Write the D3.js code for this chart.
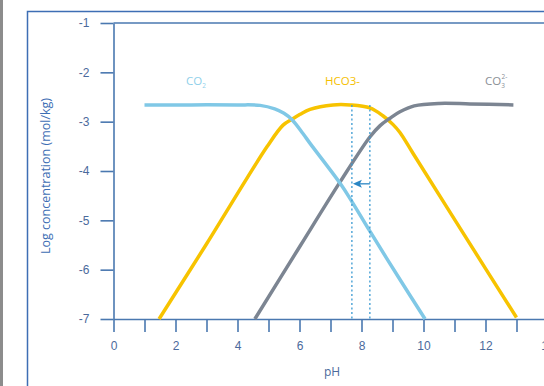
<!DOCTYPE html>
<html>
<head>
<meta charset="utf-8">
<script src="https://cdn.jsdelivr.net/npm/d3@7"></script>
<style>
  body { margin: 0; background: #fff; }
  svg { display: block; font-family: "Open Sans", sans-serif; }
  .axis text { fill: #4b6a9c; font-size: 12px; }
  .axis line, .axis path { stroke: #4a78b0; stroke-width: 1.6; }
</style>
</head>
<body>
<script>
var W = 544, H = 386;

// values: [pH, log concentration]
var co2 = [[1.0,-2.66],[2.5,-2.66],[4.0,-2.66],[4.73,-2.67],[5.2,-2.74],[5.5,-2.83],[5.76,-2.96],
  [6.11,-3.24],[6.34,-3.44],[7.31,-4.25],[7.69,-4.62],[8.27,-5.22],[9.24,-6.2],[10.05,-7.0]];
var hco3 = [[1.47,-7],[3.0,-5.48],[4.95,-3.51],[5.47,-3.07],[5.76,-2.95],[6.02,-2.85],
  [6.34,-2.75],[7.08,-2.66],[7.63,-2.66],[8.27,-2.72],[8.69,-2.88],[9.02,-3.06],[9.24,-3.22],[9.66,-3.64],
  [11.3,-5.28],[13.0,-6.97]];
var co3 = [[4.56,-7],[6.02,-5.52],[7.31,-4.22],[8.27,-3.31],[8.6,-3.08],[8.92,-2.93],[9.24,-2.8],
  [9.7,-2.68],[10.5,-2.63],[11.5,-2.64],[12.9,-2.66]];
var markers = [7.69, 8.27];   // dotted pH lines
var markerTop = -2.66;
var arrowY = -4.26;
var xTicks = d3.range(0, 15);
var yTicks = [-1,-2,-3,-4,-5,-6,-7];

var svg = d3.select("body").append("svg")
  .attr("width", W).attr("height", H);

// page frame
svg.append("rect").attr("x", 0).attr("y", 0).attr("width", 3).attr("height", H).attr("fill", "#8c8c8c");
svg.append("rect").attr("x", 27.5).attr("y", 11.5).attr("width", W).attr("height", H)
  .attr("fill", "none").attr("stroke", "#3d6eb4").attr("stroke-width", 1.5);

var x = d3.scaleLinear().domain([0, 14]).range([113.5, 547.5]);
var y = d3.scaleLinear().domain([-7, -1]).range([319, 23]);

// top line
svg.append("line").attr("x1", x(0)).attr("x2", W).attr("y1", y(-1)).attr("y2", y(-1))
  .attr("stroke", "#4a78b0").attr("stroke-width", 1.6);

svg.append("g").attr("class", "axis")
  .attr("transform", "translate(0," + y(-7) + ")")
  .call(d3.axisBottom(x).tickValues(xTicks).tickSize(13).tickSizeOuter(0).tickPadding(9)
    .tickFormat(function(d) { return d % 2 === 0 ? d : ""; }));

svg.append("g").attr("class", "axis")
  .attr("transform", "translate(" + x(0) + ",0)")
  .call(d3.axisLeft(y).tickValues(yTicks).tickSize(13).tickSizeOuter(0).tickPadding(11)
    .tickFormat(function(d) { return "-" + Math.abs(d); }));

svg.append("text").attr("transform", "translate(50," + 176 + ") rotate(-90)")
  .attr("text-anchor", "middle").attr("fill", "#3d6eb4").style("font-size", "12.5px")
  .text("Log concentration (mol/kg)");
svg.append("text").attr("x", 332).attr("y", 376).attr("text-anchor", "middle")
  .attr("fill", "#4b6a9c").style("font-size", "12px").text("pH");

var line = d3.line().x(function(d) { return x(d[0]); }).y(function(d) { return y(d[1]); })
  .curve(d3.curveCatmullRom.alpha(0.5));

svg.append("path").datum(hco3).attr("d", line).attr("fill", "none")
  .attr("stroke", "#f7c300").attr("stroke-width", 3.5);
svg.append("path").datum(co3).attr("d", line).attr("fill", "none")
  .attr("stroke", "#7c8592").attr("stroke-width", 3.5);
svg.append("path").datum(co2).attr("d", line).attr("fill", "none")
  .attr("stroke", "#80c8e6").attr("stroke-width", 3.5);

svg.selectAll(".marker").data(markers).enter().append("line")
  .attr("x1", function(d) { return x(d); }).attr("x2", function(d) { return x(d); })
  .attr("y1", y(markerTop)).attr("y2", y(-7))
  .attr("stroke", "#3a9ad2").attr("stroke-width", 1.3).attr("stroke-dasharray", "2,2.5");

// arrow
svg.append("line").attr("x1", x(markers[1])).attr("x2", x(markers[0]) + 6)
  .attr("y1", y(arrowY)).attr("y2", y(arrowY)).attr("stroke", "#2a86c4").attr("stroke-width", 1.3);
svg.append("path")
  .attr("d", "M" + (x(markers[0]) + 1) + "," + y(arrowY) + "l9,-4l-2,4l2,4z")
  .attr("fill", "#2a86c4");

// species labels
function species(tx, color, base, sub, sup) {
  var t = svg.append("text").attr("x", tx).attr("y", 85).attr("fill", color).style("font-size", "11.5px");
  t.append("tspan").text(base);
  if (sub) t.append("tspan").attr("dy", 3).style("font-size", "6.5px").text(sub);
  if (sup) t.append("tspan").attr("dx", -3.5).attr("dy", -9).style("font-size", "6.5px").text(sup);
}
species(186, "#8fd0ea", "CO", "2");
species(325, "#f5c000", "HCO3-");
species(485, "#8a8f96", "CO", "3", "2-");
</script>
</body>
</html>
